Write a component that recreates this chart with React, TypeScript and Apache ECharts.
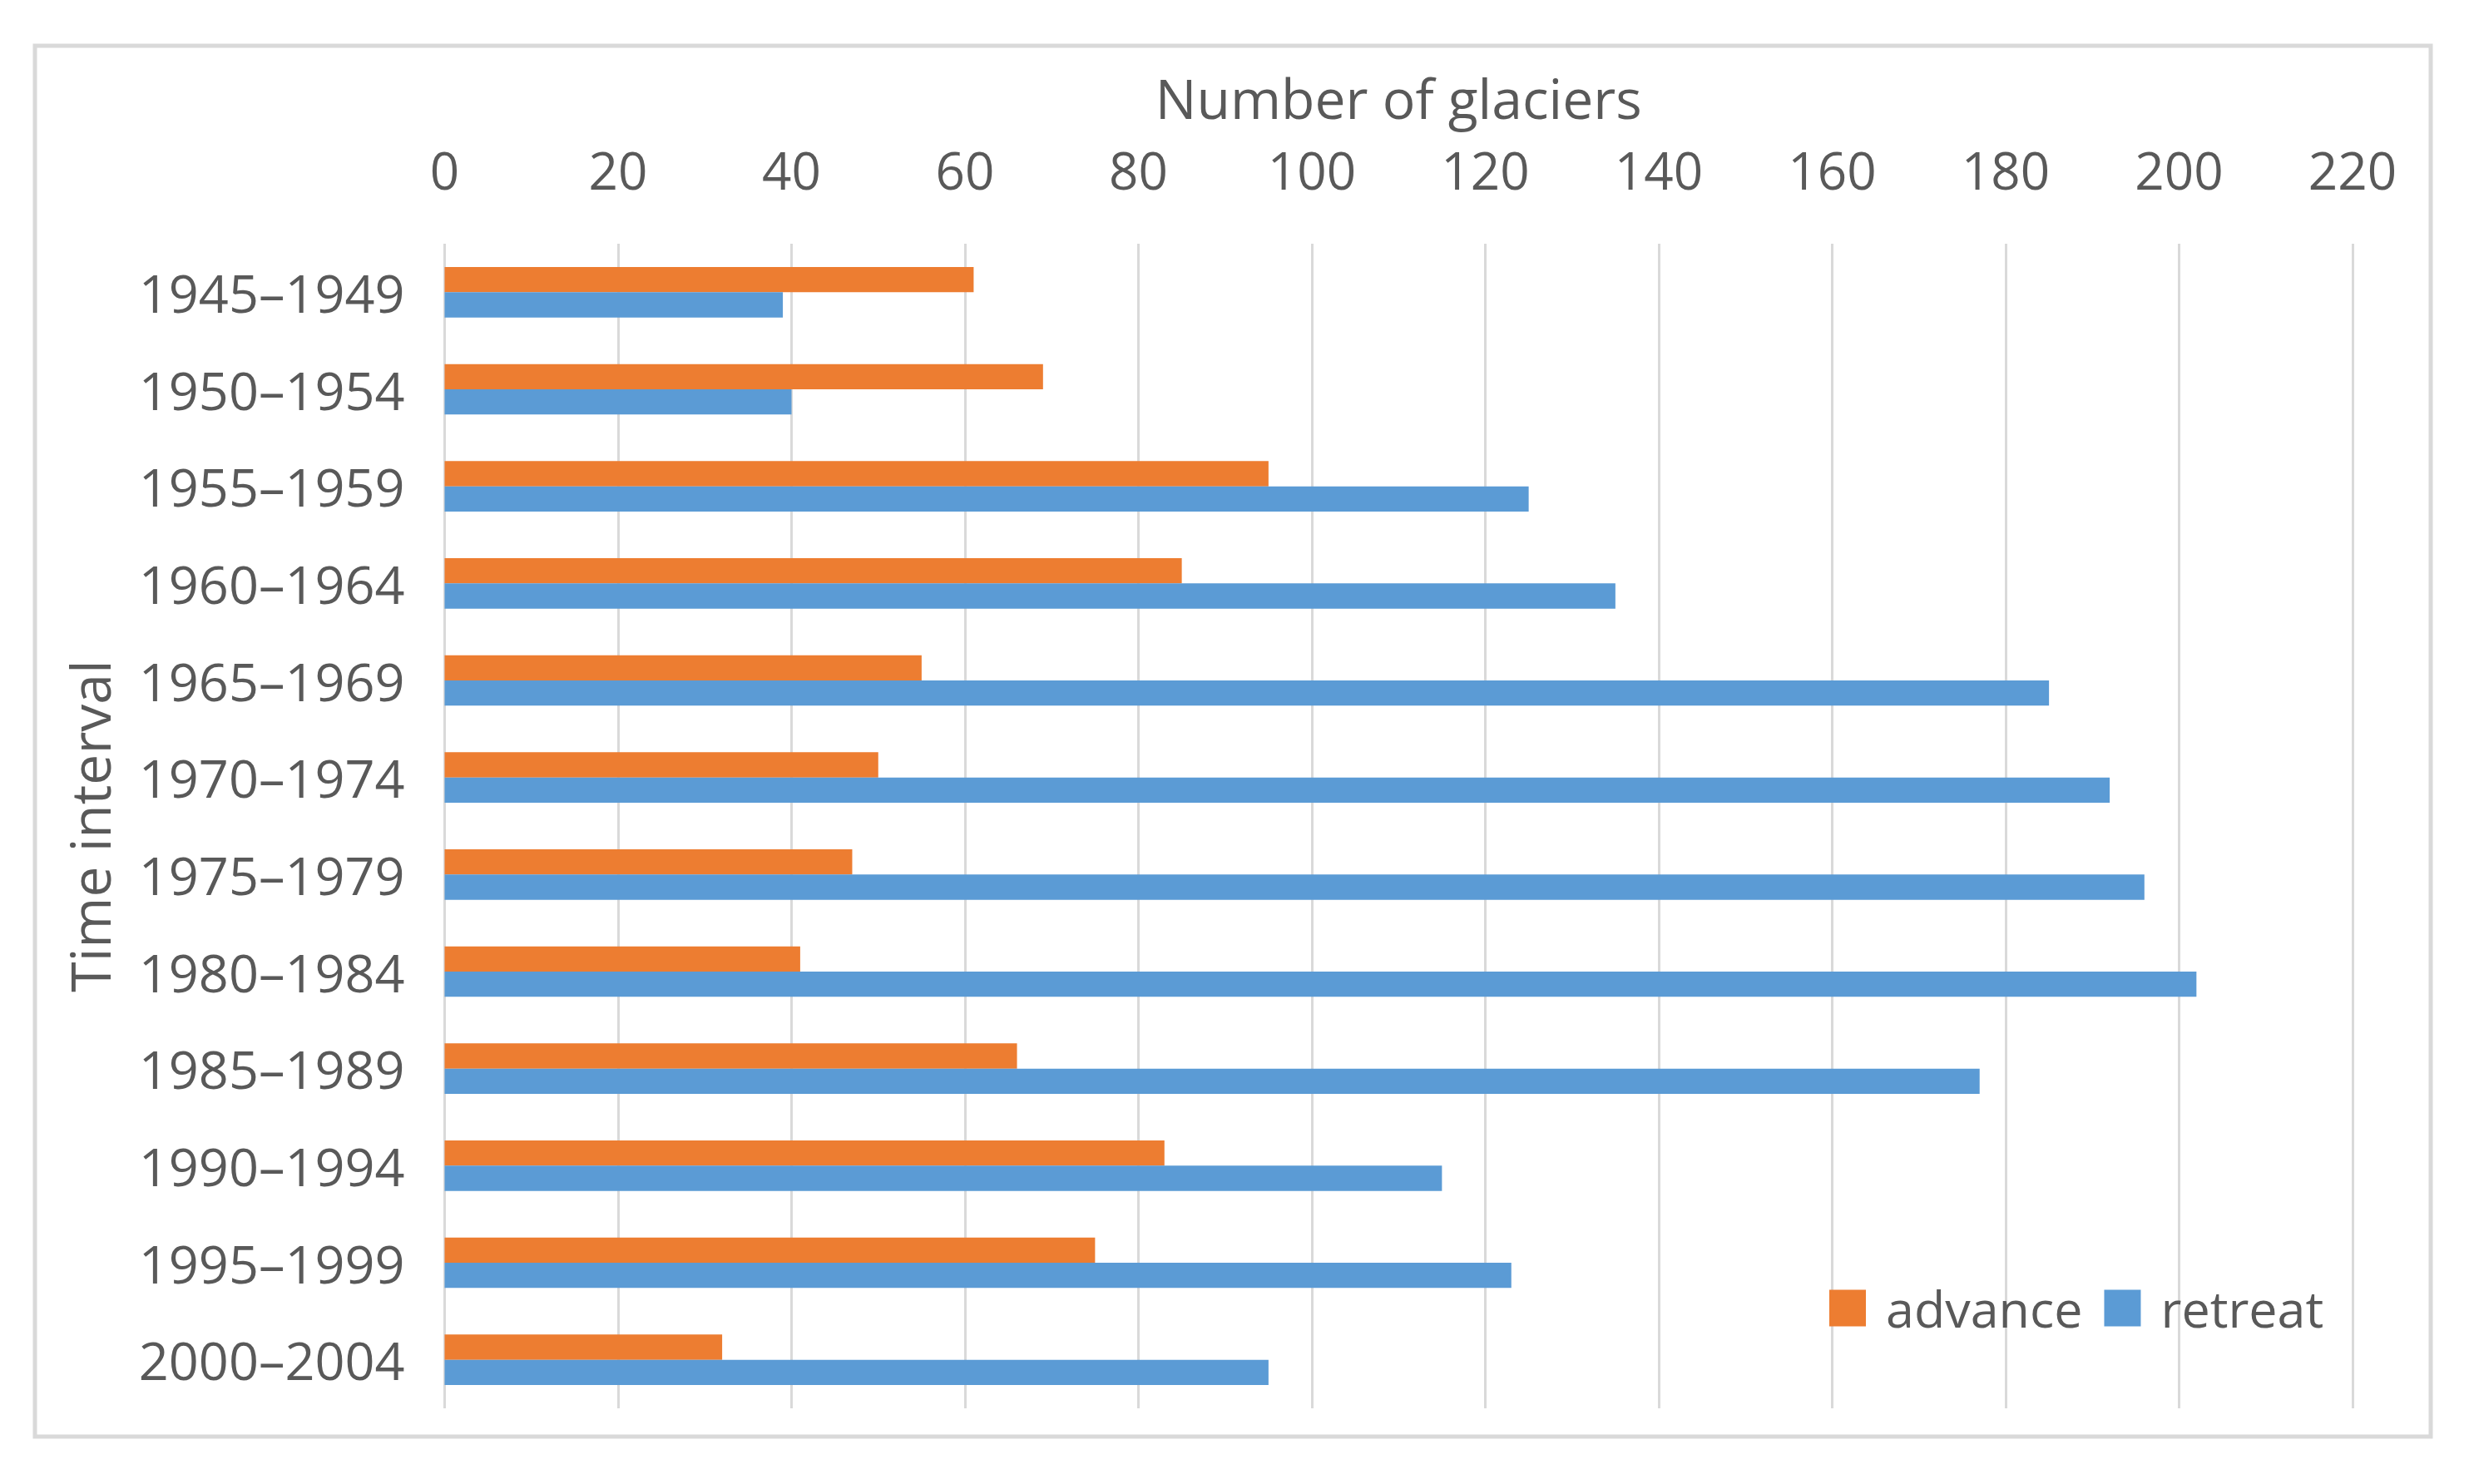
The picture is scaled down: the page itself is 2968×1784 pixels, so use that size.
import React, { useEffect, useRef } from "react";
import * as echarts from "echarts";

const categories = [
  "1945–1949", "1950–1954", "1955–1959", "1960–1964", "1965–1969", "1970–1974",
  "1975–1979", "1980–1984", "1985–1989", "1990–1994", "1995–1999", "2000–2004",
];
const advance = [61, 69, 95, 85, 55, 50, 47, 41, 66, 83, 75, 32];
const retreat = [39, 40, 125, 135, 185, 192, 196, 202, 177, 115, 123, 95];
const xTicks = { min: 0, max: 220, interval: 20 };

const FONT = "Open Sans";
const TXT = "#595959";

export default function App() {
  const ref = useRef<HTMLDivElement>(null);
  useEffect(() => {
    const chart = echarts.init(ref.current!, null, { renderer: "svg" });
    chart.setOption({
      animation: false,
      backgroundColor: "#ffffff",
      textStyle: { fontFamily: FONT },
      graphic: [
        {
          type: "rect",
          shape: { x: 42, y: 55, width: 2880, height: 1672 },
          style: { fill: "none", stroke: "#d9d9d9", lineWidth: 5 },
          silent: true,
        },
      ],
      grid: { left: 534.5, right: 140, top: 293, bottom: 91, containLabel: false },
      legend: {
        left: 2194,
        top: 1537,
        itemWidth: 44,
        itemHeight: 44,
        itemGap: 26,
        icon: "rect",
        textStyle: { fontFamily: FONT, fontSize: 61, color: TXT, padding: [0, 0, 0, 19] },
        data: ["advance", "retreat"],
      },
      xAxis: {
        type: "value",
        position: "top",
        min: xTicks.min,
        max: xTicks.max,
        interval: xTicks.interval,
        name: "Number of glaciers",
        nameLocation: "middle",
        nameGap: 143,
        nameTextStyle: { fontFamily: FONT, fontSize: 66, color: TXT, lineHeight: 66 },
        axisLine: { show: false },
        axisTick: { show: false },
        axisLabel: { fontFamily: FONT, fontSize: 62, color: TXT, margin: 58, lineHeight: 62 },
        splitLine: { show: true, lineStyle: { color: "#d9d9d9", width: 3 } },
      },
      yAxis: {
        type: "category",
        inverse: true,
        data: categories,
        name: "Time interval",
        nameLocation: "middle",
        nameGap: 395,
        nameTextStyle: { fontFamily: FONT, fontSize: 66, color: TXT },
        axisLine: { show: false },
        axisTick: { show: false },
        axisLabel: { fontFamily: FONT, fontSize: 63, color: TXT, margin: 48 },
      },
      series: [
        {
          name: "advance",
          type: "bar",
          data: advance,
          itemStyle: { color: "#ED7D31" },
          barGap: "0%",
          barCategoryGap: "48%",
        },
        {
          name: "retreat",
          type: "bar",
          data: retreat,
          itemStyle: { color: "#5B9BD5" },
          barGap: "0%",
          barCategoryGap: "48%",
        },
      ],
    });
    return () => chart.dispose();
  }, []);
  return (
    <div
      ref={ref}
      style={{ position: "fixed", left: 0, top: 0, width: 2968, height: 1784 }}
    />
  );
}
